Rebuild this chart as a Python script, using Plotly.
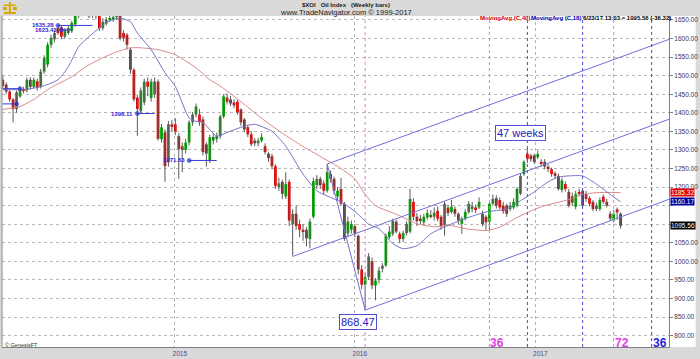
import pandas as pd
import plotly.graph_objects as go

# ---------------- data (weekly bars, $XOI) ----------------
first_week = "2014-01-17"
open_ = [1489,1476,1457,1436,1410,1444,1463,1460,1489,1470,1485,1470,1511,1530,1583,1598,1628,1630,1605,1615,
         1620,1638,1662,1672,1668,1678,1662,1670,1662,1628,1640,1650,1650,1658,1663,1615,1610,1570,1516,1441,
         1404,1428,1484,1440,1450,1484,1329,1347,1267,1369,1369,1337,1310,1300,1320,1374,1395,1395,1382,1315,
         1270,1325,1332,1337,1390,1441,1436,1428,1430,1409,1382,1361,1342,1325,1318,1325,1310,1290,1283,1256,
         1200,1214,1175,1214,1100,1128,1100,1085,1085,1060,1120,1205,1222,1210,1190,1235,1222,1175,1195,1155,
         1075,1085,1095,1069,978,937,958,1000,935,950,980,989,1065,1074,1107,1074,1060,1076,1080,1160,
         1120,1115,1105,1118,1125,1120,1136,1120,1097,1145,1133,1141,1128,1101,1115,1133,1141,1145,1145,1128,
         1120,1107,1155,1170,1165,1150,1150,1141,1145,1150,1182,1235,1290,1285,1285,1280,1268,1268,1255,1248,
         1237,1230,1192,1208,1187,1175,1147,1187,1190,1181,1170,1160,1141,1141,1174,1160,1128,1110,1140,1128]
high = [1500,1482,1462,1440,1460,1470,1470,1495,1496,1495,1492,1518,1555,1590,1610,1622,1635,1635,1628,1635,
        1648,1670,1680,1684,1688,1690,1682,1678,1670,1655,1658,1662,1665,1672,1670,1622,1615,1575,1520,1448,
        1468,1492,1495,1492,1495,1490,1370,1355,1378,1380,1385,1345,1320,1330,1380,1402,1425,1410,1390,1320,
        1340,1345,1347,1395,1450,1452,1445,1436,1435,1412,1386,1366,1350,1332,1332,1345,1318,1295,1290,1262,
        1225,1220,1240,1220,1140,1150,1112,1100,1092,1115,1225,1232,1228,1218,1262,1245,1228,1200,1225,1160,
        1120,1110,1100,1072,990,970,1022,1010,955,985,995,1075,1095,1115,1112,1080,1082,1108,1195,1170,
        1130,1125,1128,1140,1138,1145,1148,1125,1162,1152,1165,1148,1132,1120,1140,1162,1160,1152,1172,1136,
        1125,1160,1180,1178,1172,1160,1155,1160,1170,1200,1238,1272,1302,1290,1290,1298,1275,1275,1262,1252,
        1242,1236,1225,1215,1195,1185,1190,1195,1195,1190,1175,1165,1158,1172,1180,1168,1135,1138,1145,1132]
low = [1465,1450,1430,1374,1400,1440,1452,1455,1462,1465,1460,1465,1505,1522,1575,1590,1610,1598,1600,1610,
       1615,1632,1655,1660,1662,1655,1656,1652,1620,1622,1635,1645,1645,1650,1595,1592,1570,1505,1430,1338,
       1398,1420,1445,1430,1440,1325,1320,1214,1255,1350,1340,1222,1240,1290,1312,1365,1388,1365,1285,1255,
       1265,1315,1320,1330,1385,1422,1418,1412,1395,1365,1348,1335,1310,1310,1310,1320,1288,1268,1248,1195,
       1190,1168,1168,1095,1015,1085,1065,1055,1040,1035,1115,1195,1195,1180,1185,1212,1180,1165,1150,1055,
       1065,1075,1065,965,925,868,950,925,895,940,970,985,1060,1068,1075,1050,1052,1070,1075,1110,
       1095,1100,1098,1112,1115,1110,1108,1085,1069,1122,1128,1120,1100,1074,1110,1128,1132,1130,1140,1094,
       1085,1085,1150,1142,1140,1128,1120,1135,1140,1145,1178,1230,1265,1268,1262,1275,1255,1248,1240,1228,
       1222,1190,1185,1188,1145,1150,1140,1175,1145,1160,1148,1135,1135,1135,1155,1145,1108,1105,1112,1088]
close = [1472,1457,1436,1410,1455,1463,1460,1489,1470,1489,1468,1511,1548,1583,1602,1615,1615,1605,1623,1628,
         1642,1662,1672,1668,1678,1660,1670,1662,1628,1645,1650,1655,1658,1662,1600,1602,1583,1516,1436,1410,
         1460,1484,1470,1484,1484,1330,1361,1256,1369,1362,1350,1302,1300,1320,1374,1395,1417,1375,1294,1290,
         1334,1335,1337,1390,1444,1430,1425,1420,1401,1374,1355,1342,1315,1318,1325,1335,1294,1278,1256,1203,
         1210,1182,1208,1110,1128,1095,1085,1080,1062,1107,1216,1222,1205,1190,1240,1222,1190,1190,1155,1061,
         1107,1100,1075,978,937,958,1013,935,948,975,988,1069,1080,1109,1080,1060,1076,1101,1168,1120,
         1108,1110,1120,1130,1122,1131,1115,1095,1155,1130,1147,1128,1110,1115,1133,1155,1148,1138,1160,1100,
         1105,1155,1168,1150,1145,1135,1128,1150,1160,1195,1230,1268,1276,1275,1268,1289,1262,1255,1250,1235,
         1230,1195,1218,1195,1150,1158,1181,1181,1150,1168,1155,1141,1150,1165,1160,1150,1115,1128,1131.88,1095.56]

# moving averages (week index, value)
ma18_idx = [0, 6, 11, 16, 19, 22, 25, 28, 31, 34, 37, 39, 43, 47, 50, 54, 56, 58, 62, 65, 70, 73, 78, 82,
            87, 91, 95, 98, 102, 106, 109, 113, 116, 120, 124, 128, 134, 140, 146, 150, 154, 158, 161, 164,
            168, 172, 175, 179]
ma18_val = [1462, 1463, 1470, 1489, 1524, 1578, 1605, 1629, 1648, 1655, 1645, 1615, 1570, 1508, 1471, 1386,
            1377, 1374, 1337, 1347, 1364, 1369, 1350, 1310, 1235, 1190, 1172, 1160, 1135, 1100, 1088, 1048,
            1034, 1042, 1074, 1093, 1115, 1133, 1141, 1163, 1187, 1214, 1227, 1230, 1230, 1208, 1187, 1160]
ma40_idx = [0, 5, 9, 14, 20, 24, 29, 33, 37, 40, 45, 50, 56, 60, 62, 66, 71, 75, 81, 86, 93, 97, 102, 105,
            108, 115, 120, 125, 130, 134, 140, 144, 149, 156, 164, 168, 172, 179]
ma40_val = [1409, 1417, 1436, 1468, 1497, 1524, 1548, 1564, 1575, 1575, 1570, 1556, 1521, 1489, 1478, 1452,
            1415, 1385, 1345, 1315, 1277, 1256, 1222, 1180, 1150, 1123, 1101, 1093, 1096, 1088, 1083, 1092,
            1118, 1147, 1166, 1180, 1185, 1185]

# pivots / channel
low_aug15 = (84, 1013.0)
high_nov15 = (94, 1262.0)
low_jan16 = (105, 868.47)
channel_slope = 3.39      # points per week
channel_end_week = 200

pink_cycles = [105, 141, 177]
blue_cycles = [152, 168, 188]
cycle_labels = [(141, "36", "#e040e0"), (177, "72", "#e040e0"), (188, "36", "#2222dd")]

# horizontal markers (start week, end week, value, label, dot at end?)
markers = [(16, 26, 1635.28, "1635.28", False), (17, 20, 1623.43, "1623.43", False),
           (39, 44, 1398.11, "1398.11", False), (54, 62, 1271.63, "1271.63", False),
           (0, 5, 1465.0, None, True), (0, 4, 1424.0, None, True)]

last_tags = [(1185.32, "1185.32", "#e00000"), (1160.17, "1160.17", "#0000a0"), (1095.56, "1095.56", "#000000")]

y_tick_vals = [800, 850, 900, 950, 1000, 1050, 1100, 1150, 1200, 1250, 1300, 1350, 1400, 1450, 1500, 1550, 1600, 1650]
y_tick_hidden = [1100, 1150]   # covered by the last-value tags

# ---------------- figure ----------------
start = pd.Timestamp(first_week)
def wk(i):
    return start + pd.Timedelta(weeks=i)

n = len(close)
dates = [wk(i) for i in range(n)]

fig = go.Figure()

# wicks
wx, wy = [], []
for d, h, l in zip(dates, high, low):
    wx += [d, d, None]
    wy += [l, h, None]
fig.add_trace(go.Scatter(x=wx, y=wy, mode="lines", line=dict(color="#5a5a5a", width=1), hoverinfo="skip"))

# bodies
bases = [min(o, c) for o, c in zip(open_, close)]
heights = [max(abs(c - o), 1.8) for o, c in zip(open_, close)]
colors = ["#00aa00" if c >= o else "#e00000" for o, c in zip(open_, close)]
fig.add_trace(go.Bar(x=dates, y=heights, base=bases, marker=dict(color=colors, line=dict(width=0)),
                     width=5.6 * 86400000))

# moving averages
fig.add_trace(go.Scatter(x=[wk(i) for i in ma40_idx], y=ma40_val, mode="lines",
                         line=dict(color="#d98a8a", width=1, shape="spline", smoothing=0.6)))
fig.add_trace(go.Scatter(x=[wk(i) for i in ma18_idx], y=ma18_val, mode="lines",
                         line=dict(color="#7474c4", width=1, shape="spline", smoothing=0.6)))

# channel lines
chan_color = "#7070dc"
for (i0, v0) in [low_aug15, high_nov15, low_jan16]:
    v1 = v0 + channel_slope * (channel_end_week - i0)
    fig.add_trace(go.Scatter(x=[wk(i0), wk(channel_end_week)], y=[v0, v1], mode="lines",
                             line=dict(color=chan_color, width=1)))
fig.add_trace(go.Scatter(x=[wk(high_nov15[0]), wk(low_jan16[0])], y=[high_nov15[1], low_jan16[1]],
                         mode="lines", line=dict(color=chan_color, width=1)))

# horizontal markers
annotations = []
for s, e, v, lab, dot_end in markers:
    sizes = [0, 4] if dot_end else [4, 0]
    fig.add_trace(go.Scatter(x=[wk(s), wk(e)], y=[v, v], mode="lines+markers",
                             line=dict(color="#3a3ad8", width=1),
                             marker=dict(size=sizes, color="#2a2ad0")))
    if lab:
        annotations.append(dict(x=wk(s), y=v, xref="x", yref="y", text="<b>" + lab + "</b>",
                                showarrow=False, xanchor="right", yanchor="middle", xshift=-2,
                                font=dict(size=6, color="#2a2ad0")))

# vertical cycle lines
shapes = []
for i in pink_cycles:
    shapes.append(dict(type="line", xref="x", yref="paper", x0=wk(i), x1=wk(i), y0=0, y1=1,
                       line=dict(color="#e27ae2", width=1, dash="dot")))
for i in blue_cycles:
    shapes.append(dict(type="line", xref="x", yref="paper", x0=wk(i), x1=wk(i), y0=0, y1=1,
                       line=dict(color="#4848d0", width=1, dash="dot")))
# white right-axis column and left border
shapes.append(dict(type="rect", xref="paper", yref="paper", x0=1, x1=1.04, y0=0, y1=1,
                   fillcolor="white", line=dict(width=0), layer="below"))
shapes.append(dict(type="line", xref="paper", yref="paper", x0=0, x1=0, y0=0, y1=1,
                   line=dict(color="#8a8a8a", width=1)))

def px(xp):
    return (xp - 2) / 674.0

def py(yp):
    return (349 - yp) / 333.0

# small gold logo at the top-left corner
logo = "#d9a800"
shapes += [
    dict(type="rect", xref="paper", yref="paper", x0=px(4), x1=px(16), y0=py(14), y1=py(12),
         fillcolor=logo, line=dict(width=0)),
    dict(type="rect", xref="paper", yref="paper", x0=px(9), x1=px(11), y0=py(12), y1=py(2),
         fillcolor=logo, line=dict(width=0)),
    dict(type="rect", xref="paper", yref="paper", x0=px(4), x1=px(16), y0=py(6), y1=py(4.5),
         fillcolor=logo, line=dict(width=0)),
    dict(type="rect", xref="paper", yref="paper", x0=px(3), x1=px(7), y0=py(10), y1=py(7),
         fillcolor=logo, line=dict(width=0)),
    dict(type="rect", xref="paper", yref="paper", x0=px(13), x1=px(17), y0=py(10), y1=py(7),
         fillcolor=logo, line=dict(width=0)),
]

for i, txt, col in cycle_labels:
    annotations.append(dict(x=wk(i), y=781, xref="x", yref="y", text="<b>" + txt + "</b>", showarrow=False,
                            xanchor="left", yanchor="middle", xshift=-1, font=dict(size=12, color=col)))

annotations.append(dict(x=wk(150), y=1345, xref="x", yref="y", text="47 weeks", showarrow=False,
                        font=dict(size=11, color="#2020c0"), bgcolor="white", bordercolor="#5050d0",
                        borderwidth=1, borderpad=1))
annotations.append(dict(x=wk(103), y=836, xref="x", yref="y", text="868.47", showarrow=False,
                        font=dict(size=11, color="#2020c0"), bgcolor="white", bordercolor="#5050d0",
                        borderwidth=1, borderpad=1))

for v, txt, col in last_tags:
    annotations.append(dict(x=1.0015, y=v, xref="paper", yref="y", text=txt, showarrow=False,
                            xanchor="left", yanchor="middle", bgcolor=col, borderpad=0,
                            font=dict(size=6.5, color="white")))

annotations += [
    dict(x=px(350), y=py(4.5), xref="paper", yref="paper", text="<b>$XOI   Oil Index   (Weekly bars)</b>",
         showarrow=False, xanchor="center", yanchor="middle", font=dict(size=6, color="#222")),
    dict(x=px(350), y=py(12.5), xref="paper", yref="paper", text="www.TradeNavigator.com © 1999-2017",
         showarrow=False, xanchor="center", yanchor="middle", font=dict(size=7.5, color="#222")),
    dict(x=px(483), y=py(18.5), xref="paper", yref="paper", text="<b>MovingAvg (C,40)</b>",
         showarrow=False, xanchor="left", yanchor="middle", font=dict(size=6, color="#e00000")),
    dict(x=px(535), y=py(18.5), xref="paper", yref="paper", text="<b>MovingAvg (C,18)</b>",
         showarrow=False, xanchor="left", yanchor="middle", font=dict(size=6, color="#0000c0")),
    dict(x=px(587), y=py(18.5), xref="paper", yref="paper", text="<b>6/23/17 13:03 = 1095.56 (-36.32)</b>",
         showarrow=False, xanchor="left", yanchor="middle", font=dict(size=6, color="#000")),
    dict(x=px(3), y=py(346.5), xref="paper", yref="paper", text="© GenesisFT",
         showarrow=False, xanchor="left", yanchor="middle", font=dict(size=5.5, color="#333")),
]

y_tick_text = ["" if v in y_tick_hidden else f"{v:.2f}" for v in y_tick_vals]

fig.update_layout(
    width=700, height=359, margin=dict(l=2, r=24, t=16, b=10),
    paper_bgcolor="#d9d9d9", plot_bgcolor="white", showlegend=False, barmode="overlay",
    font=dict(family="Liberation Sans, Arial, sans-serif", size=7),
    shapes=shapes, annotations=annotations, hovermode=False,
    xaxis=dict(type="date", range=["2014-01-15 12:00", "2017-09-29 05:00"],
               tickmode="array", tickvals=["2015-01-01", "2016-01-01", "2017-01-01"],
               ticktext=["2015", "2016", "2017"], showgrid=True, gridcolor="#b4b4b4", griddash="dot",
               showline=True, linecolor="#808080", ticks="", ticklabelshift=5,
               tickfont=dict(size=6.5, color="#4a4a90"), zeroline=False, fixedrange=True),
    yaxis=dict(side="right", range=[769.2, 1660.7], tickmode="array", tickvals=y_tick_vals,
               ticktext=y_tick_text,
               showgrid=True, gridcolor="#b8b8b8", griddash="dot", showline=True, linecolor="#808080",
               ticks="outside", ticklen=3, tickcolor="#808080", zeroline=False,
               tickfont=dict(size=6.5, color="#333366"), fixedrange=True),
)

fig.write_html("out.html")
